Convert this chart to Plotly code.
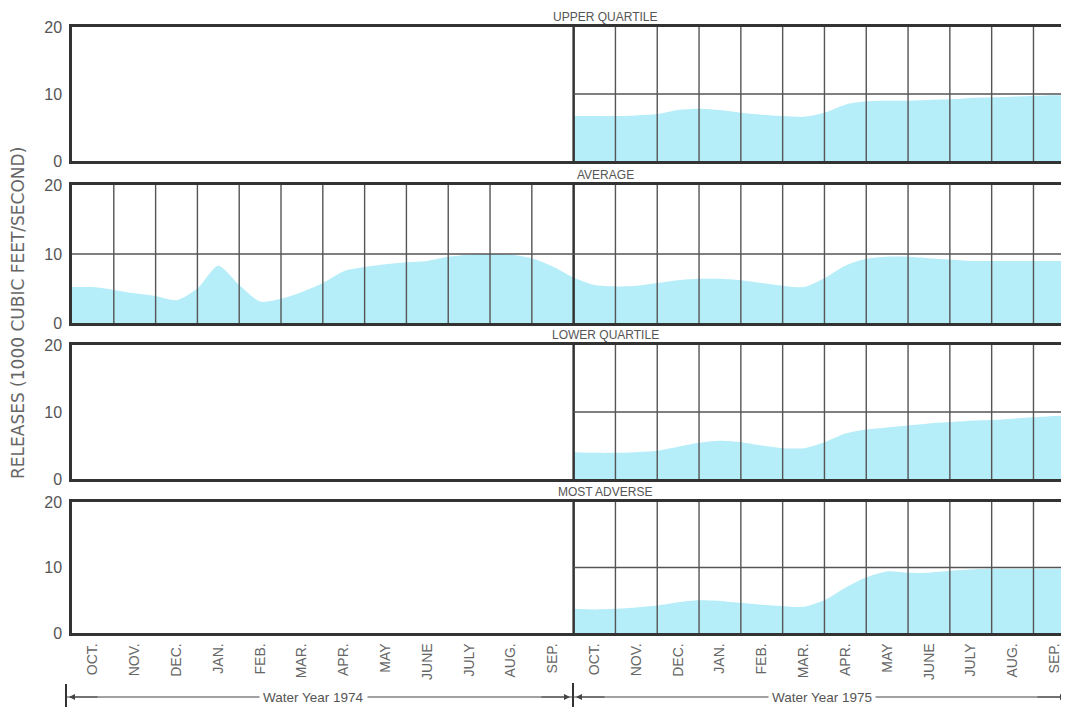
import plotly.graph_objects as go

# ---------------- data ----------------
months = ["OCT.", "NOV.", "DEC.", "JAN.", "FEB.", "MAR.", "APR.", "MAY", "JUNE", "JULY", "AUG.", "SEP."]
tick_labels = months + months
panel_titles = ["UPPER QUARTILE", "AVERAGE", "LOWER QUARTILE", "MOST ADVERSE"]
year_labels = ["Water Year 1974", "Water Year 1975"]
y_title = "RELEASES (1000 CUBIC FEET/SECOND)"

# time in months since Oct 1973, sampled every half month
t_two_years = [i / 2 for i in range(0, 49)]
t_1975 = [i / 2 for i in range(24, 49)]

average = [5.2, 5.2, 4.8, 4.3, 3.9, 3.3, 5.0, 8.3, 5.5, 3.1, 3.5, 4.5,
           5.8, 7.5, 8.1, 8.5, 8.8, 9.0, 9.6, 9.9, 10.0, 9.9, 9.4, 8.2,
           6.6, 5.5, 5.3, 5.4, 5.8, 6.2, 6.4, 6.4, 6.2, 5.8, 5.4, 5.2,
           6.5, 8.3, 9.3, 9.6, 9.6, 9.4, 9.2, 9.0, 9.0, 9.0, 9.0, 9.0, 9.0]
upper_quartile = [6.7, 6.7, 6.7, 6.8, 7.0, 7.6, 7.8, 7.6, 7.2, 6.9, 6.7, 6.6,
                  7.2, 8.4, 8.9, 9.0, 9.0, 9.1, 9.2, 9.4, 9.5, 9.6, 9.7, 9.8, 9.8]
lower_quartile = [4.0, 3.9, 3.9, 4.0, 4.2, 4.8, 5.4, 5.7, 5.5, 5.0, 4.6, 4.6,
                  5.5, 6.8, 7.4, 7.7, 8.0, 8.3, 8.5, 8.7, 8.8, 9.0, 9.2, 9.4, 9.5]
most_adverse = [3.7, 3.6, 3.7, 3.9, 4.2, 4.7, 5.0, 4.9, 4.6, 4.3, 4.1, 4.0,
                5.0, 6.9, 8.5, 9.4, 9.2, 9.2, 9.5, 9.7, 9.8, 9.8, 9.8, 9.8, 9.8]

series = [(t_1975, upper_quartile), (t_two_years, average),
          (t_1975, lower_quartile), (t_1975, most_adverse)]
grid_start = [12, 0, 12, 12]  # month from which the grid is drawn in each panel

# ---------------- style ----------------
OFF = 8                      # page body margin of the browser
W, H = 1069 - OFF, 707 - OFF
# all pixel positions below are in screenshot coordinates
left_px, right_px, top_px, bottom_px = 72, 1069, 27, 633
ML, MR, MT, MB = left_px - OFF, 0, top_px - OFF, 707 - bottom_px
FILL = "rgb(181,237,248)"
INK = "#333333"
GRID = "#555555"
TXT = "#555555"
FONT = "Liberation Sans, Arial, sans-serif"
panel_px = [(27, 161), (185, 323), (345, 479), (502, 633)]
plot_h = bottom_px - top_px
plot_w = right_px - left_px
x_end = 23.85


def py(px):
    return (bottom_px - px) / plot_h


def px_x(px):
    return (px - left_px) / plot_w


fig = go.Figure()
shapes = []
annotations = []

for i, ((tx, vals), (top, bot)) in enumerate(zip(series, panel_px)):
    n = i + 1
    xa = "x" if n == 1 else f"x{n}"
    ya = "y" if n == 1 else f"y{n}"
    fig.add_trace(go.Scatter(
        x=tx, y=vals, mode="lines", fill="tozeroy",
        line=dict(width=0, shape="spline", smoothing=0.7, color=FILL),
        fillcolor=FILL, xaxis=xa, yaxis=ya, showlegend=False, hoverinfo="skip"))

    xkey = "xaxis" if n == 1 else f"xaxis{n}"
    ykey = "yaxis" if n == 1 else f"yaxis{n}"
    fig.layout[xkey] = dict(
        domain=[0, 1], range=[0, x_end], anchor=ya,
        showgrid=False, zeroline=False, showline=True, linewidth=2.5,
        linecolor=INK, mirror=True, ticks="",
        tickvals=[k + 0.5 for k in range(24)] if n == 4 else [],
        ticktext=tick_labels if n == 4 else [],
        showticklabels=(n == 4), tickangle=-90, ticklabelstandoff=2,
        tickfont=dict(family=FONT, size=14, color="#666666"))
    fig.layout[ykey] = dict(
        domain=[py(bot), py(top)], range=[0, 20], anchor=xa,
        tickvals=[0, 10, 20], ticktext=["0", "10", "20"],
        showgrid=False, zeroline=False, showline=True, linewidth=2.5,
        linecolor=INK, mirror=False, ticks="", ticklabelstandoff=4,
        tickfont=dict(family=FONT, size=16, color=TXT))

    # grid: month lines + 10-line
    gs = grid_start[i]
    for m in range(max(gs, 1), 24):
        shapes.append(dict(type="line", xref=xa, yref=ya, x0=m, x1=m, y0=0, y1=20,
                           line=dict(color=INK if m == 12 else GRID,
                                     width=2.5 if m == 12 else 1.4),
                           layer="above"))
    shapes.append(dict(type="line", xref=xa, yref=ya, x0=gs, x1=x_end, y0=10, y1=10,
                       line=dict(color=GRID, width=1.4), layer="above"))

    annotations.append(dict(
        text=panel_titles[i], xref="paper", yref="paper",
        x=px_x(605), y=py(top), xanchor="center", yanchor="bottom",
        showarrow=False, font=dict(family=FONT, size=12, color=TXT), yshift=1))

# y title
annotations.append(dict(
    text=y_title, xref="paper", yref="paper", x=px_x(18), y=py(313),
    textangle=-90, showarrow=False, xanchor="center", yanchor="middle",
    font=dict(family="DejaVu Sans, sans-serif", size=17, color="#666666")))

# water-year brackets
yy = py(697)
for bx, t_px, b_px in [(66, 684, 707), (573, 683, 707)]:
    shapes.append(dict(type="line", xref="paper", yref="paper",
                       x0=px_x(bx), x1=px_x(bx), y0=py(t_px), y1=py(b_px),
                       line=dict(color=INK, width=2)))
spans = [(67, 572), (574, 1068)]
for (a, b), lab in zip(spans, year_labels):
    shapes.append(dict(type="line", xref="paper", yref="paper",
                       x0=px_x(a), x1=px_x(b), y0=yy, y1=yy,
                       line=dict(color="#444444", width=1.2)))
    annotations.append(dict(text="", xref="paper", yref="paper", x=px_x(a + 2), y=yy,
                            showarrow=True, ax=30, ay=0, arrowhead=2, arrowsize=1,
                            arrowwidth=1.2, arrowcolor="#444444"))
    annotations.append(dict(text="", xref="paper", yref="paper", x=px_x(b - 2), y=yy,
                            showarrow=True, ax=-30, ay=0, arrowhead=2, arrowsize=1,
                            arrowwidth=1.2, arrowcolor="#444444"))
    annotations.append(dict(text=lab, xref="paper", yref="paper",
                            x=px_x(313 if lab.endswith("1974") else 822),
                            y=yy, showarrow=False, bgcolor="white", borderpad=3,
                            xanchor="center", yanchor="middle",
                            font=dict(family=FONT, size=13.5, color=TXT)))

fig.update_layout(
    width=W, height=H, margin=dict(l=ML, r=MR, t=MT, b=MB, pad=0),
    paper_bgcolor="white", plot_bgcolor="white",
    shapes=shapes, annotations=annotations, showlegend=False,
    font=dict(family=FONT))

fig.write_html("out.html")
